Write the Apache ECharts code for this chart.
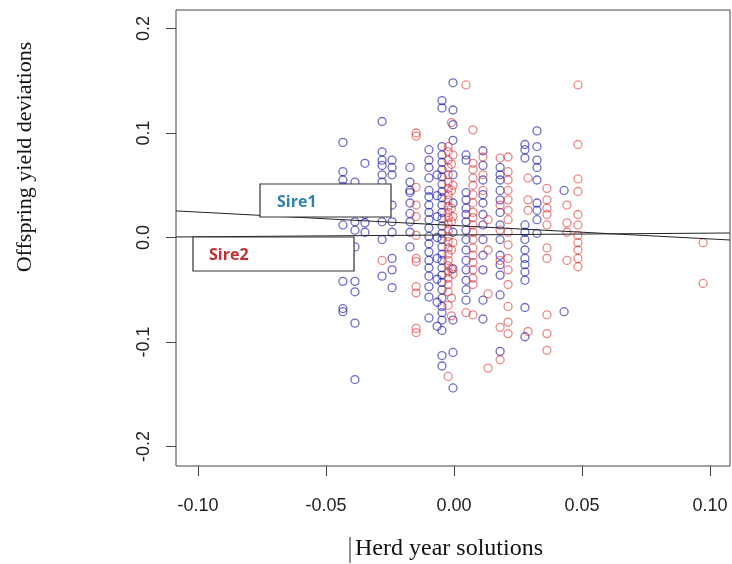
<!DOCTYPE html>
<html>
<head>
<meta charset="utf-8">
<script src="https://cdn.jsdelivr.net/npm/echarts@6/dist/echarts.min.js"></script>
<style>
  html, body { margin: 0; padding: 0; background: #fff; }
  #grafico { width: 732px; height: 564px; }
</style>
</head>
<body>
<div id="grafico"></div>
<script>
// ticks
var xTicks = [-0.10, -0.05, 0.00, 0.05, 0.10];
var yTicks = [-0.2, -0.1, 0.0, 0.1, 0.2];

// Sire1 (blue): herd-year column and the offspring deviations in it
var sire1X = [-0.0434, -0.0387, -0.0348, -0.0281, -0.0242, -0.0172, -0.0098, -0.0066, -0.0047, -0.0004,
              0.0047, 0.0113, 0.0180, 0.0277, 0.0324, 0.0430];
var sire1Y = [
    [0.091, 0.063, 0.055, 0.049, 0.012, -0.042, -0.068, -0.071],
    [0.053, 0.015, 0.007, -0.009, -0.042, -0.052, -0.082, -0.136],
    [0.071, 0.022, 0.014, 0.005],
    [0.111, 0.082, 0.074, 0.069, 0.060, 0.053, 0.045, 0.036, 0.026, 0.015, -0.002, -0.037],
    [0.074, 0.067, 0.060, 0.031, 0.015, 0.005, -0.020, -0.031, -0.048],
    [0.067, 0.053, 0.045, 0.043, 0.033, 0.023, 0.015, 0.005, -0.009],
    [0.084, 0.074, 0.067, 0.057, 0.045, 0.039, 0.031, 0.024, 0.017, 0.009, 0.001, -0.006, -0.014,
     -0.022, -0.029, -0.037, -0.047, -0.057, -0.077],
    [0.060, 0.040, 0.020, 0.000, -0.020, -0.040, -0.062, -0.085],
    [0.131, 0.124, 0.087, 0.079, 0.072, 0.065, 0.058, 0.051, 0.044, 0.038, 0.031, 0.024, 0.018,
     0.011, 0.004, -0.002, -0.009, -0.016, -0.022, -0.029, -0.036, -0.043, -0.050, -0.058, -0.066,
     -0.072, -0.079, -0.089, -0.113, -0.123],
    [0.148, 0.122, 0.108, 0.093, 0.060, 0.033, 0.005, -0.030, -0.079, -0.110, -0.144],
    [0.079, 0.074, 0.043, 0.036, 0.028, 0.022, 0.015, 0.007, -0.002, -0.012, -0.022, -0.031,
     -0.041, -0.050, -0.060],
    [0.083, 0.069, 0.055, 0.041, 0.033, 0.022, 0.012, -0.002, -0.017, -0.031, -0.060, -0.078],
    [0.067, 0.060, 0.055, 0.045, 0.036, 0.024, 0.012, -0.002, -0.017, -0.026, -0.036, -0.055, -0.109],
    [0.089, 0.084, 0.076, 0.012, 0.005, -0.002, -0.012, -0.020, -0.026, -0.033, -0.041, -0.067, -0.095],
    [0.102, 0.087, 0.074, 0.067, 0.055, 0.033, 0.026, 0.017, 0.004],
    [0.045, -0.071]
];

// Sire2 (red)
var sire2X = [-0.0281, -0.0148, -0.0023, -0.0010, -0.0004, 0.0047, 0.0074, 0.0113, 0.0133, 0.0180, 0.0211,
              0.0289, 0.0363, 0.0441, 0.0484, 0.0973];
var sire2Y = [
    [-0.022],
    [0.100, 0.097, 0.048, 0.031, 0.020, 0.002, -0.020, -0.023, -0.047, -0.053, -0.087, -0.091],
    [0.087, 0.082, 0.074, 0.067, 0.060, 0.053, 0.047, 0.041, 0.036, 0.030, 0.024, 0.019, 0.013,
     0.007, 0.001, -0.004, -0.010, -0.016, -0.022, -0.027, -0.033, -0.039, -0.045, -0.052, -0.065, -0.133],
    [0.110, 0.070, 0.045, 0.028, 0.015, -0.012, -0.030, -0.058, -0.075],
    [0.079, 0.050, 0.020, -0.005, -0.035],
    [0.146, -0.072],
    [0.103, 0.071, 0.065, 0.057, 0.050, 0.041, 0.033, 0.024, 0.019, 0.012, 0.005, -0.002, -0.010,
     -0.017, -0.024, -0.031, -0.039, -0.045, -0.074],
    [0.077, 0.060, 0.045],
    [0.017, -0.012, -0.054, -0.125],
    [0.076, 0.031, 0.007, -0.022, -0.086, -0.117],
    [0.077, 0.063, 0.055, 0.045, 0.036, 0.026, 0.017, 0.005, -0.007, -0.020, -0.031, -0.045,
     -0.066, -0.081, -0.092],
    [0.057, 0.036, 0.026, -0.090],
    [0.047, 0.036, 0.028, 0.022, 0.012, -0.010, -0.020, -0.074, -0.092, -0.108],
    [0.031, 0.014, 0.005, -0.022],
    [0.146, 0.089, 0.056, 0.044, 0.022, 0.012, 0.002, -0.005, -0.012, -0.020, -0.028],
    [-0.005, -0.044]
];

// regression lines (ends at the plot edges)
var fitX = [-0.1086, 0.1078];
var sire1Fit = [0.0254, -0.0024];
var sire2Fit = [0.0005, 0.0043];

function pontos(colunas, valores) {
    var out = [];
    colunas.forEach(function (x, i) {
        valores[i].forEach(function (y) { out.push([x, y]); });
    });
    return out;
}

function reta(ys) {
    return fitX.map(function (x, i) { return [x, ys[i]]; });
}

var dom = document.getElementById('grafico');
var chart = echarts.init(dom, null, { renderer: 'canvas' });

var labelStyle = {
    color: '#222',
    fontFamily: '"Liberation Sans", Arial, sans-serif',
    fontSize: 18
};

chart.setOption({
    animation: false,
    backgroundColor: '#fff',
    grid: {
        left: 176, right: 2, top: 10, bottom: 98,
        show: true,
        borderColor: '#444',
        borderWidth: 1,
        outerBoundsMode: 'none'
    },
    xAxis: {
        type: 'value',
        min: -0.1086,
        max: 0.1078,
        splitLine: { show: false },
        axisLine: { show: false, onZero: false },
        axisTick: { show: true, inside: false, length: 10, customValues: xTicks,
                    lineStyle: { color: '#444', width: 1 } },
        axisLabel: Object.assign({
            customValues: xTicks,
            margin: 31,
            formatter: function (v) { return v.toFixed(2); }
        }, labelStyle)
    },
    yAxis: {
        type: 'value',
        min: -0.2187,
        max: 0.2177,
        splitLine: { show: false },
        axisLine: { show: false, onZero: false },
        axisTick: { show: true, inside: false, length: 10, customValues: yTicks,
                    lineStyle: { color: '#444', width: 1 } },
        axisLabel: Object.assign({
            customValues: yTicks,
            rotate: 90,
            margin: 23,
            formatter: function (v) { return v.toFixed(1); }
        }, labelStyle)
    },
    series: [
        {
            name: 'Sire1',
            type: 'scatter',
            symbol: 'circle',
            symbolSize: 8,
            itemStyle: { color: 'transparent', borderColor: 'rgba(10,10,170,0.75)', borderWidth: 1.3 },
            data: pontos(sire1X, sire1Y)
        },
        {
            name: 'Sire2',
            type: 'scatter',
            symbol: 'circle',
            symbolSize: 8,
            itemStyle: { color: 'transparent', borderColor: 'rgba(220,25,25,0.65)', borderWidth: 1.3 },
            data: pontos(sire2X, sire2Y)
        },
        {
            name: 'fit1',
            type: 'line',
            symbol: 'none',
            silent: true,
            lineStyle: { color: '#222', width: 1 },
            data: reta(sire1Fit)
        },
        {
            name: 'fit2',
            type: 'line',
            symbol: 'none',
            silent: true,
            lineStyle: { color: '#222', width: 1 },
            data: reta(sire2Fit)
        }
    ],
    graphic: [
        { type: 'rect', z: 100, shape: { x: 260, y: 184, width: 131, height: 33 },
          style: { fill: '#fff', stroke: '#333', lineWidth: 1.2 } },
        { type: 'text', z: 101, x: 277, y: 202,
          style: { text: 'Sire1', fill: '#2f82aa', font: 'bold 16px "Open Sans", sans-serif', verticalAlign: 'middle' } },
        { type: 'rect', z: 100, shape: { x: 193, y: 237, width: 161, height: 34 },
          style: { fill: '#fff', stroke: '#333', lineWidth: 1.2 } },
        { type: 'text', z: 101, x: 209, y: 255,
          style: { text: 'Sire2', fill: '#c42e2e', font: 'bold 16px "Open Sans", sans-serif', verticalAlign: 'middle' } },
        { type: 'text', x: 25, y: 157, rotation: Math.PI / 2,
          style: { text: 'Offspring yield deviations', fill: '#111', font: '22px "Liberation Serif", serif',
                   align: 'center', verticalAlign: 'middle' } },
        { type: 'text', x: 449, y: 549,
          style: { text: 'Herd year solutions', fill: '#111', font: '24px "Liberation Serif", serif',
                   align: 'center', verticalAlign: 'middle' } },
        { type: 'line', shape: { x1: 350, y1: 537, x2: 350, y2: 563 }, style: { stroke: '#222', lineWidth: 1 } }
    ]
});

window.addEventListener('resize', chart.resize);
</script>
</body>
</html>
